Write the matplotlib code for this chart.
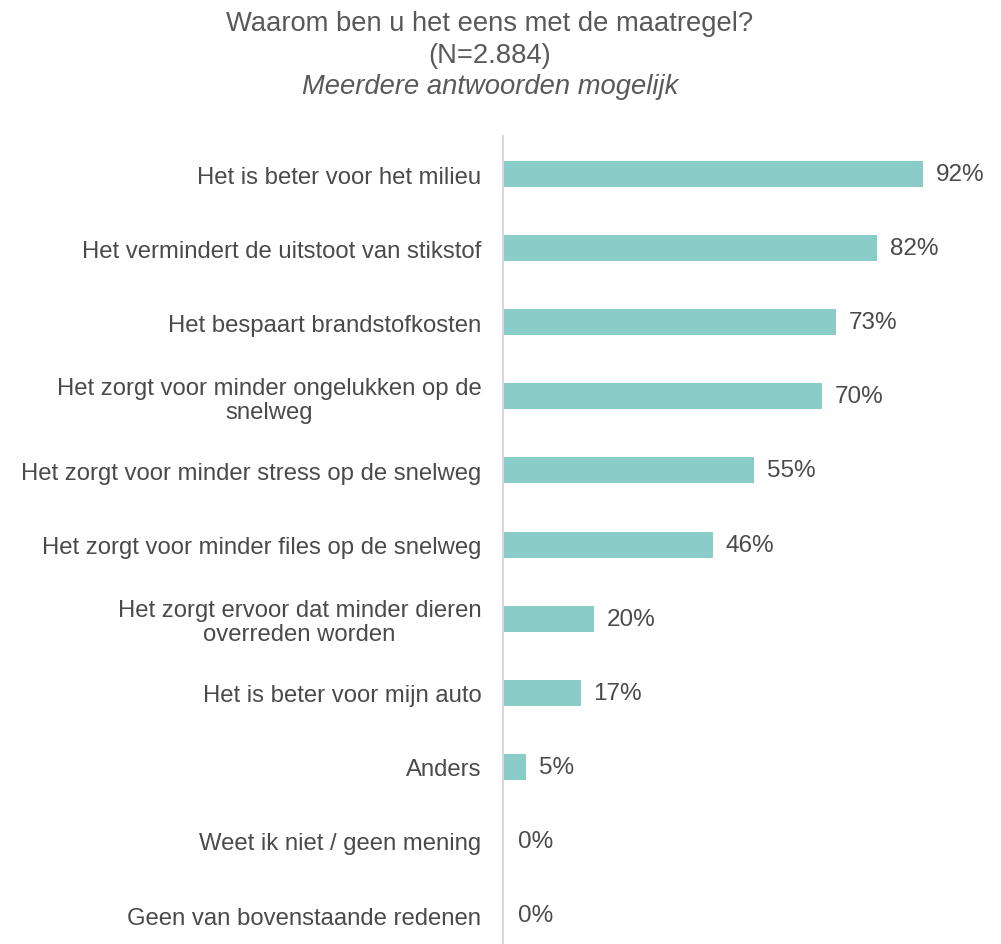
import matplotlib
matplotlib.use("Agg")
import matplotlib.pyplot as plt

categories = [
    "Het is beter voor het milieu",
    "Het vermindert de uitstoot van stikstof",
    "Het bespaart brandstofkosten",
    "Het zorgt voor minder ongelukken op de\nsnelweg",
    "Het zorgt voor minder stress op de snelweg",
    "Het zorgt voor minder files op de snelweg",
    "Het zorgt ervoor dat minder dieren\noverreden worden",
    "Het is beter voor mijn auto",
    "Anders",
    "Weet ik niet / geen mening",
    "Geen van bovenstaande redenen",
]
values = [92, 82, 73, 70, 55, 46, 20, 17, 5, 0, 0]

plt.rcParams['font.family'] = ['Liberation Sans', 'DejaVu Sans']
W, H = 1001, 945
fig = plt.figure(figsize=(W / 100, H / 100), dpi=100)

left = 503 / W
width = 456 / W
top_px = 137
ax = fig.add_axes([left, 0, width, (H - top_px) / H])

text_col = "#4a4a4a"
bar_col = "#8ACCC8"
pos = list(range(len(categories)))
ax.barh(pos, values, height=0.35, color=bar_col)
ax.set_xlim(0, 100)
ax.set_ylim(10.39, -0.513)
ax.set_yticks(pos)
ax.set_yticklabels(categories, fontsize=17.2, color=text_col, ha="right",
                   multialignment="center", linespacing=1.12)
ax.tick_params(axis="y", length=0, pad=15.5)
ax.set_xticks([])
for s in ["top", "right", "bottom"]:
    ax.spines[s].set_visible(False)
ax.spines["left"].set_color("#d9d9d9")
ax.spines["left"].set_linewidth(1.5)

for p, v in zip(pos, values):
    ax.annotate(f"{v}%", xy=(v, p), xytext=(13 if v > 0 else 15, 0), textcoords="offset pixels",
                va="center", ha="left", fontsize=17.5, color=text_col)

title_col = "#595959"
fig.text(490 / W, 1 - 31 / H, "Waarom ben u het eens met de maatregel?", ha="center", va="baseline",
         fontsize=19.7, color=title_col)
fig.text(490 / W, 1 - 63 / H, "(N=2.884)", ha="center", va="baseline", fontsize=19.7, color=title_col)
fig.text(490 / W, 1 - 94 / H, "Meerdere antwoorden mogelijk", ha="center", va="baseline",
         fontsize=19.7, color=title_col, style="italic")

fig.savefig("out.png", dpi=100)
